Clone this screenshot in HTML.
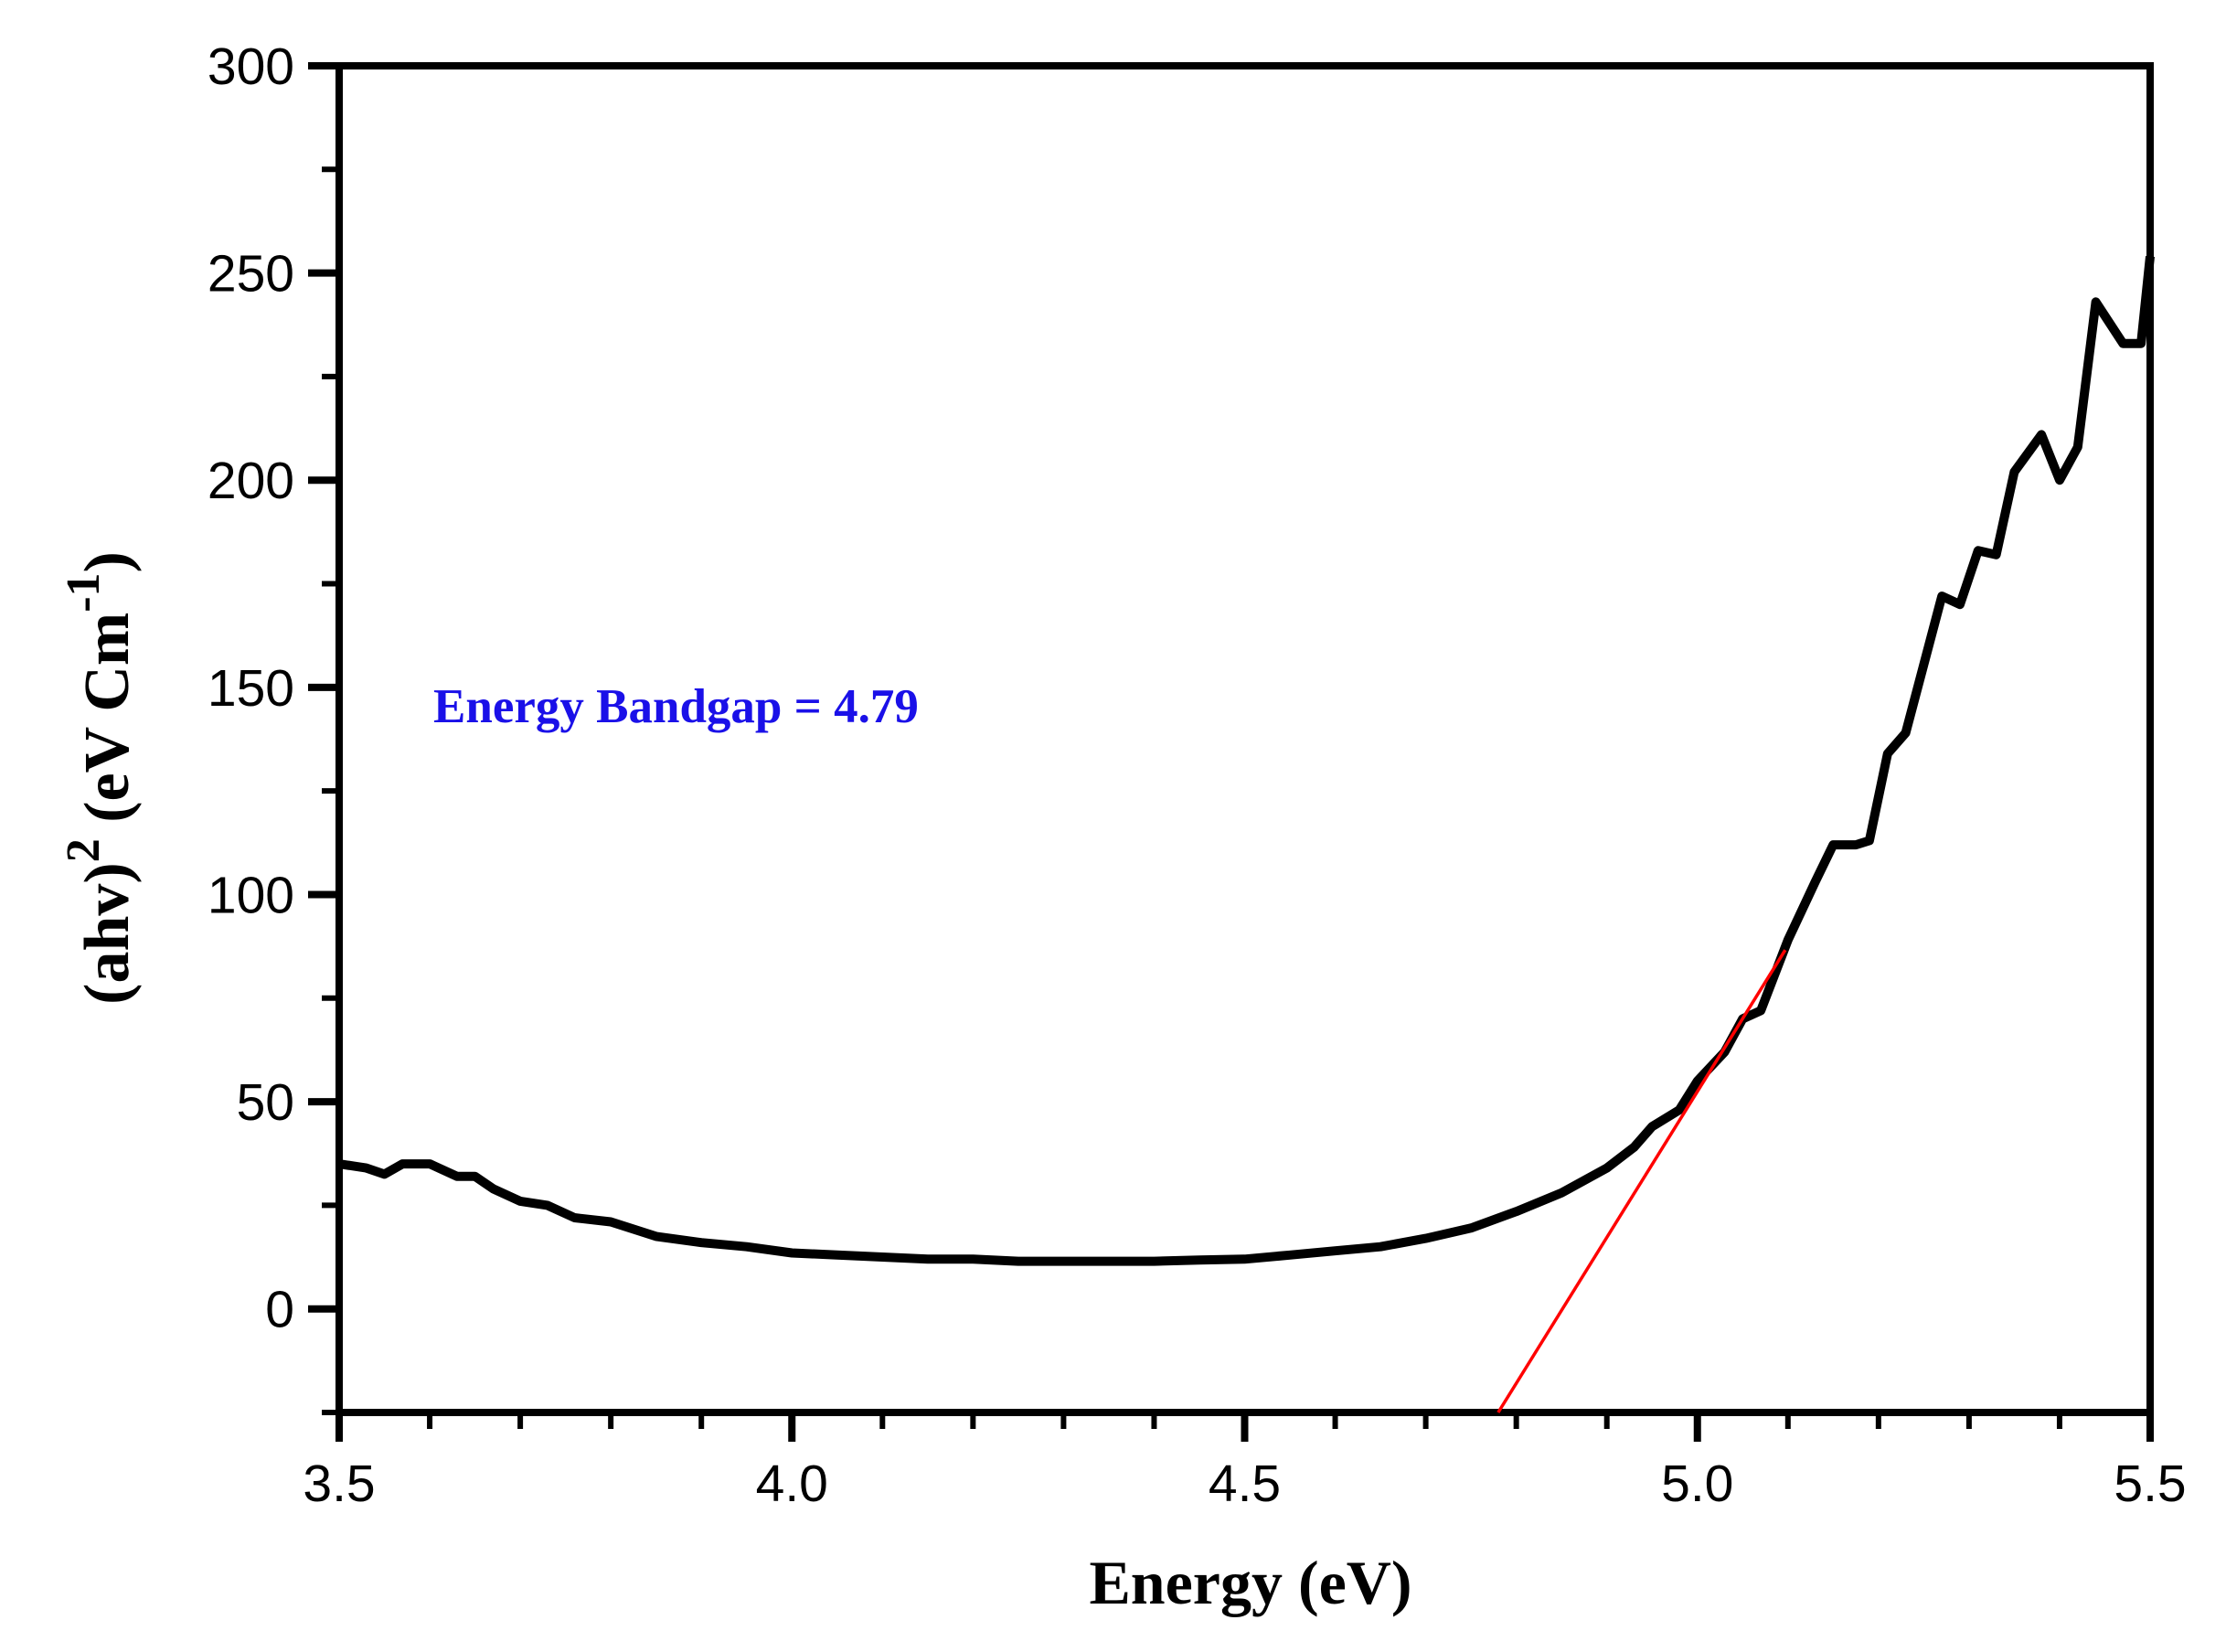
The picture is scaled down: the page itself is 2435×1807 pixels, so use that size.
<!DOCTYPE html>
<html><head><meta charset="utf-8"><style>
html,body{margin:0;padding:0;background:#fff;}
svg{display:block;}
</style></head><body>
<svg id="chart" width="2435" height="1807" viewBox="0 0 2435 1807" xmlns="http://www.w3.org/2000/svg">
<g id="axes"></g>
<g id="marks"></g>
<text x="474" y="790" font-family="Liberation Serif, serif" font-weight="bold" font-size="53" fill="#1a10e8">Energy Bandgap = 4.79</text>
<text x="1368" y="1754" text-anchor="middle" font-family="Liberation Serif, serif" font-weight="bold" font-size="68" fill="#000">Energy (eV)</text>
<text transform="translate(140,851) rotate(-90)" text-anchor="middle" font-family="Liberation Serif, serif" font-weight="bold" font-size="70" fill="#000">(ahv)<tspan dy="-32" font-size="52">2</tspan><tspan dy="32"> (eV Cm</tspan><tspan dy="-32" font-size="52">-1</tspan><tspan dy="32">)</tspan></text>
</svg>
<script>
const energy = [3.50,3.53,3.55,3.57,3.60,3.63,3.65,3.67,3.70,3.73,3.76,3.80,3.85,3.90,3.95,4.00,4.05,4.10,4.15,4.20,4.25,4.30,4.35,4.40,4.45,4.50,4.55,4.60,4.65,4.70,4.75,4.80,4.85,4.90,4.93,4.95,4.98,5.00,5.03,5.05,5.07,5.10,5.13,5.15,5.175,5.19,5.21,5.23,5.27,5.29,5.31,5.33,5.35,5.38,5.40,5.42,5.44,5.47,5.49,5.50];
const absorb = [35,34,32.5,35,35,32,32,29,26,25,22,21,17.5,16,15,13.5,13,12.5,12,12,11.5,11.5,11.5,11.5,11.8,12,13,14,15,17,19.5,23.5,28,34,39,44,48,55,62,70,72,89,103,112,112,113,134,139,172,170,183,182,202,211,200,208,243,233,233,254];
const fitX = [4.78, 5.097];
const fitY = [-25, 86.6];
const xTicks = [3.5,4.0,4.5,5.0,5.5];
const xTickLabels = ["3.5","4.0","4.5","5.0","5.5"];
const yTicks = [0,50,100,150,200,250,300];
const yTickLabels = ["0","50","100","150","200","250","300"];

const X0=371,X1=2352,Y0=1545,Y1=72, xmin=3.5,xmax=5.5,ymin=-25,ymax=300;
const sx=v=>X0+(v-xmin)/(xmax-xmin)*(X1-X0);
const sy=v=>Y0-(v-ymin)/(ymax-ymin)*(Y0-Y1);
const NS="http://www.w3.org/2000/svg";
const axes=document.getElementById('axes'), marks=document.getElementById('marks');
function mk(tag,attrs,parent){const e=document.createElementNS(NS,tag);for(const k in attrs)e.setAttribute(k,attrs[k]);parent.appendChild(e);return e;}

const frame=mk('rect',{x:X0,y:Y1,width:X1-X0,height:Y0-Y1,fill:'none',stroke:'#000','stroke-width':8},axes);



for(let v=3.5;v<=5.5001;v+=0.1){
  const major=Math.abs(v*2-Math.round(v*2))<1e-6;
  const t=mk('line',{x1:sx(v),x2:sx(v),y1:Y0,y2:Y0+(major?32:18),stroke:'#000','stroke-width':major?8:6},axes);
  
  
}
for(let v=-25;v<=300;v+=25){
  const major=v%50===0;
  const t=mk('line',{x1:X0-(major?34:19),x2:X0,y1:sy(v),y2:sy(v),stroke:'#000','stroke-width':major?8:6},axes);
  
  
}
xTicks.forEach((v,i)=>{
  const t=mk('text',{x:sx(v),y:1642,'text-anchor':'middle','font-family':'Liberation Sans, sans-serif','font-size':57,fill:'#000'},axes);
  t.textContent=xTickLabels[i];
  
  
});
yTicks.forEach((v,i)=>{
  const t=mk('text',{x:322,y:sy(v)+20,'text-anchor':'end','font-family':'Liberation Sans, sans-serif','font-size':57,fill:'#000'},axes);
  t.textContent=yTickLabels[i];
  
  
});

const d=energy.map((e,i)=>(i?'L':'M')+sx(e).toFixed(1)+','+sy(absorb[i]).toFixed(1)).join(' ');
const line=mk('path',{d:d,fill:'none',stroke:'#000','stroke-width':10,'stroke-linejoin':'round'},marks);



const fit=mk('line',{x1:sx(fitX[0]),y1:sy(fitY[0]),x2:sx(fitX[1]),y2:sy(fitY[1]),stroke:'#ff0000','stroke-width':3.5},marks);


</script>
</body></html>
